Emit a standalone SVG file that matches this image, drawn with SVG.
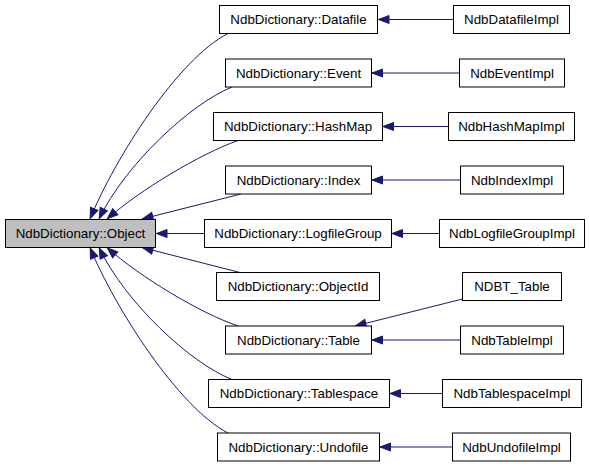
<svg xmlns="http://www.w3.org/2000/svg" width="589" height="467" viewBox="0 0 589 467">
<style>
.n rect{fill:#ffffff;stroke:#000000;stroke-width:1}
.n.root rect{fill:#bfbfbf}
.n text{font-family:"Liberation Sans",Arial,sans-serif;font-size:13.33px;text-anchor:middle;fill:#000000}
.e path{fill:none;stroke:#191970;stroke-width:1;marker-end:url(#ah)}
</style>
<defs>
<marker id="ah" markerUnits="userSpaceOnUse" markerWidth="14" markerHeight="11" refX="11.5" refY="4.5" orient="auto" overflow="visible">
<path d="M0.5,0.5 L11,4.5 L0.5,8.5 Z" fill="#191970" stroke="#191970" stroke-width="1"/>
</marker>
</defs>
<rect width="589" height="467" fill="#ffffff"/>
<g id="edges" class="e">
<path d="M228,33.5 C178,59 115,158 90,219"/>
<path d="M232,87 C190,104 125,165 99,219"/>
<path d="M238,140.5 C200,154 140,190 107,219"/>
<path d="M241,194 L142,219"/>
<path d="M204.5,233.5 L156,233.5"/>
<path d="M240,272.5 L142,247.5"/>
<path d="M238,326 C200,313 140,277 107,247.5"/>
<path d="M232,379.5 C190,363 125,302 99,247.5"/>
<path d="M228,433 C178,407 115,308 90,247.5"/>
<path d="M453.5,19.5 L378,19.5"/>
<path d="M459.5,73 L371.5,73"/>
<path d="M448.5,126.5 L382.5,126.5"/>
<path d="M460.5,180 L371.5,180"/>
<path d="M439.5,233.5 L391.5,233.5"/>
<path d="M462.5,299 L355,326"/>
<path d="M460.5,340 L371.5,340"/>
<path d="M442.5,393.5 L389.5,393.5"/>
<path d="M452.5,447 L379.5,447"/>
</g>
<g id="n_object" class="n root"><rect x="5.5" y="219.5" width="150" height="28"/><text x="80.5" y="238">NdbDictionary::Object</text></g>
<g id="n_datafile" class="n"><rect x="219.5" y="5.5" width="158" height="28"/><text x="298.5" y="24">NdbDictionary::Datafile</text></g>
<g id="n_event" class="n"><rect x="225.5" y="59" width="146" height="28"/><text x="298.5" y="77.5">NdbDictionary::Event</text></g>
<g id="n_hashmap" class="n"><rect x="213.5" y="112.5" width="169" height="28"/><text x="298" y="131">NdbDictionary::HashMap</text></g>
<g id="n_index" class="n"><rect x="225.5" y="166" width="146" height="28"/><text x="298.5" y="184.5">NdbDictionary::Index</text></g>
<g id="n_logfilegroup" class="n"><rect x="204.5" y="219.5" width="187" height="28"/><text x="298" y="238">NdbDictionary::LogfileGroup</text></g>
<g id="n_objectid" class="n"><rect x="216.5" y="272.5" width="163" height="28"/><text x="298" y="291">NdbDictionary::ObjectId</text></g>
<g id="n_table" class="n"><rect x="225.5" y="326" width="146" height="28"/><text x="298.5" y="344.5">NdbDictionary::Table</text></g>
<g id="n_tablespace" class="n"><rect x="208.5" y="379.5" width="181" height="28"/><text x="299" y="398">NdbDictionary::Tablespace</text></g>
<g id="n_undofile" class="n"><rect x="217.5" y="433" width="162" height="28"/><text x="298.5" y="451.5">NdbDictionary::Undofile</text></g>
<g id="n_datafileimpl" class="n"><rect x="453.5" y="5.5" width="116" height="28"/><text x="511.5" y="24">NdbDatafileImpl</text></g>
<g id="n_eventimpl" class="n"><rect x="459.5" y="59" width="105" height="28"/><text x="512" y="77.5">NdbEventImpl</text></g>
<g id="n_hashmapimpl" class="n"><rect x="448.5" y="112.5" width="126" height="28"/><text x="511.5" y="131">NdbHashMapImpl</text></g>
<g id="n_indeximpl" class="n"><rect x="460.5" y="166" width="103" height="28"/><text x="512" y="184.5">NdbIndexImpl</text></g>
<g id="n_logfilegroupimpl" class="n"><rect x="439.5" y="219.5" width="145" height="28"/><text x="512" y="238">NdbLogfileGroupImpl</text></g>
<g id="n_ndbt_table" class="n"><rect x="462.5" y="272.5" width="99" height="28"/><text x="512" y="291">NDBT_Table</text></g>
<g id="n_tableimpl" class="n"><rect x="460.5" y="326" width="103" height="28"/><text x="512" y="344.5">NdbTableImpl</text></g>
<g id="n_tablespaceimpl" class="n"><rect x="442.5" y="379.5" width="139" height="28"/><text x="512" y="398">NdbTablespaceImpl</text></g>
<g id="n_undofileimpl" class="n"><rect x="452.5" y="433" width="118" height="28"/><text x="511.5" y="451.5">NdbUndofileImpl</text></g>
</svg>
